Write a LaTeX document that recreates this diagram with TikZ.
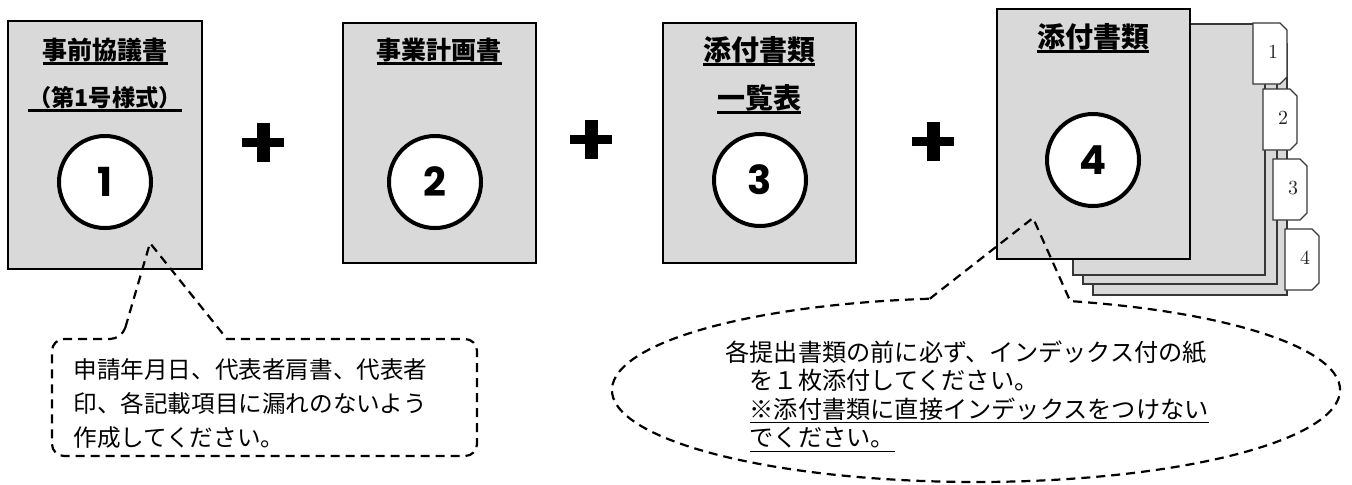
\documentclass[tikz,border=0pt]{standalone}
\usepackage{fontspec}
\usepackage{xcolor}
\usepackage{tikz}

\newfontfamily\jpfont{Noto Sans CJK JP}
\newfontfamily\numfont{Poppins}
\definecolor{paper}{RGB}{217,217,217}
\definecolor{tabline}{RGB}{55,55,55}
\newcommand{\ulbox}[2][1.4pt]{\setbox0\hbox{#2}\rlap{\rule[-2.6pt]{\wd0}{#1}}\box0}

\begin{document}
\begin{tikzpicture}[x=0.5pt,y=-0.5pt,
	sheet/.style={fill=paper,draw=black,line width=0.7pt},
	leaf/.style={fill=paper,draw=tabline,line width=0.6pt},
	tabcard/.style={fill=white,draw=tabline,line width=0.6pt},
	numcirc/.style={circle,draw=black,fill=white,line width=2pt,minimum size=46pt,inner sep=0pt,font=\numfont\bfseries\fontsize{20}{20}\selectfont},
	title/.style={anchor=base,inner sep=0pt,font=\jpfont\bfseries\fontsize{12.5}{14}\selectfont},
	bigtitle/.style={title,font=\jpfont\bfseries\fontsize{14}{16}\selectfont},
	note/.style={dash pattern=on 4.5pt off 3pt,line width=1.1pt},
	notetext/.style={anchor=north west,align=left,inner sep=0pt}]
	\useasboundingbox (0,0) rectangle (1352,484);

	% first sheet
	\draw[sheet] (8,21) rectangle (202,269);
	\node[title] (t1a) at (105,59.5) {\ulbox{事前協議書}};
	\node[title,font=\jpfont\bfseries\fontsize{11.6}{14}\selectfont] (t1b) at (105,106.5) {\ulbox{（第1号様式）}};
	\node[numcirc] (n1) at (105,182) {1};

	% second sheet
	\draw[sheet] (343,23) rectangle (536,263);
	\node[title] (t2) at (439,59.5) {\ulbox{事業計画書}};
	\node[numcirc] (n2) at (435,182) {2};

	% third sheet
	\draw[sheet] (663,23) rectangle (856,263);
	\node[bigtitle] (t3a) at (759,60.6) {\ulbox{添付書類}};
	\node[bigtitle] (t3b) at (759,108.6) {\ulbox{一覧表}};
	\node[numcirc] (n3) at (760,180) {3};

	% plus signs
	\foreach \px/\py in {263/142,591/139,933/141}
	{
		\fill (\px-21,\py-4.5) rectangle (\px+21,\py+4.5);
		\fill (\px-6.5,\py-19.5) rectangle (\px+6.5,\py+19.5);
	}

	% stack of attachments with index tabs
	\draw[leaf] (1093,44) rectangle (1287,295);
	\draw[leaf] (1083,34) rectangle (1277,284);
	\draw[leaf] (1073,24) rectangle (1265,275);
	\foreach \i/\tx/\ty in {1/1253/23,2/1263/89,3/1273/159,4/1285/229}
	{
		\draw[tabcard] (\tx,\ty) -- (\tx+27,\ty) -- (\tx+34,\ty+7) -- (\tx+34,\ty+54) -- (\tx+27,\ty+61) -- (\tx,\ty+61) -- cycle;
		\node[font=\fontsize{10}{10}\selectfont,text=black!85] (tab\i) at (\tx+20,\ty+29) {\i};
	}
	\draw[sheet] (997,9) rectangle (1190,259);
	\node[bigtitle] (t4) at (1093,47.6) {\ulbox{添付書類}};
	\node[numcirc] (n4) at (1093,160) {4};

	% callout for sheet 1
	\coordinate (c1tip) at (150,243);
	\draw[note] (122,339) -- (c1tip) -- (227,339) [rounded corners=6pt] -- (477,339) -- (477,456) -- (52,456) -- (52,339) -- cycle;
	\node[notetext,font=\jpfont\fontsize{11.8}{17}\selectfont] (memo1) at (73,358)
		{申請年月日、代表者肩書、代表者\\印、各記載項目に漏れのないよう\\作成してください。};

	% callout for the attachments
	\coordinate (c2tip) at (1033,218);
	\draw[note] (929.8,298.7) -- (c2tip) -- (1070.2,301.1) arc[start angle=285,end angle=622.7,x radius=364,y radius=92];
	\node[notetext,font=\jpfont\fontsize{12.1}{14.3}\selectfont] (memo2) at (725,340)
		{各提出書類の前に必ず、インデックス付の紙\\
		\hspace*{12.1pt}を１枚添付してください。\\
		\hspace*{12.1pt}\ulbox[0.7pt]{※添付書類に直接インデックスをつけない}\\
		\hspace*{12.1pt}\ulbox[0.7pt]{でください。}};
\end{tikzpicture}
\end{document}
